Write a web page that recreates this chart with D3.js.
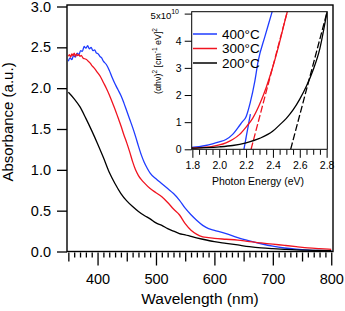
<!DOCTYPE html>
<html>
<head>
<meta charset="utf-8">
<script src="https://cdn.jsdelivr.net/npm/d3@7"></script>
<style>
  body { margin: 0; background: #fff; }
  svg { display: block; font-family: "Liberation Sans", Arial, sans-serif; }
</style>
</head>
<body>
<svg id="chart" width="345" height="311"></svg>
<script>
// main spectra: wavelength (nm) / absorbance (a.u.)
const wl400 = [350, 353, 356, 359, 362, 365, 368, 371, 374, 377, 380, 383, 386, 389, 392, 395, 398, 401, 404, 407, 410, 415, 420, 425, 430, 435, 440, 445, 450, 455, 460, 465, 470, 475, 480, 485, 490, 500, 510, 520, 530, 540, 550, 560, 570, 580, 590, 600, 620, 640, 660, 680, 700, 720, 740, 760, 780, 800];
const abs400 = [2.33, 2.37, 2.35, 2.40, 2.38, 2.43, 2.41, 2.46, 2.45, 2.51, 2.49, 2.52, 2.48, 2.50, 2.46, 2.47, 2.43, 2.42, 2.39, 2.37, 2.33, 2.29, 2.22, 2.13, 2.05, 1.98, 1.91, 1.82, 1.72, 1.62, 1.52, 1.41, 1.29, 1.18, 1.09, 1.02, 0.96, 0.89, 0.83, 0.77, 0.71, 0.63, 0.53, 0.45, 0.38, 0.32, 0.28, 0.26, 0.22, 0.17, 0.13, 0.095, 0.065, 0.043, 0.028, 0.018, 0.013, 0.01];

const wl300 = [350, 352, 354, 356, 358, 360, 362, 364, 366, 368, 370, 372, 375, 378, 381, 384, 387, 390, 395, 400, 405, 410, 415, 420, 425, 430, 435, 440, 445, 450, 455, 460, 465, 470, 475, 480, 490, 500, 510, 520, 530, 540, 550, 560, 570, 580, 590, 600, 620, 640, 660, 680, 700, 720, 740, 760, 780, 800];
const abs300 = [2.39, 2.41, 2.38, 2.42, 2.40, 2.43, 2.39, 2.42, 2.40, 2.41, 2.39, 2.40, 2.37, 2.36, 2.35, 2.33, 2.31, 2.28, 2.24, 2.19, 2.14, 2.07, 2.00, 1.92, 1.83, 1.74, 1.64, 1.54, 1.43, 1.33, 1.22, 1.10, 1.00, 0.93, 0.88, 0.84, 0.77, 0.72, 0.67, 0.60, 0.52, 0.45, 0.34, 0.26, 0.21, 0.18, 0.17, 0.16, 0.15, 0.14, 0.12, 0.105, 0.09, 0.075, 0.06, 0.045, 0.035, 0.027];

const wl200 = [350, 360, 370, 380, 390, 400, 410, 420, 430, 440, 450, 460, 470, 480, 490, 500, 510, 520, 530, 540, 550, 560, 580, 600, 620, 640, 660, 680, 700, 720, 740, 770, 800];
const abs200 = [1.95, 1.87, 1.77, 1.63, 1.48, 1.32, 1.15, 0.97, 0.83, 0.71, 0.62, 0.55, 0.49, 0.44, 0.40, 0.35, 0.32, 0.28, 0.25, 0.22, 0.205, 0.185, 0.15, 0.12, 0.10, 0.08, 0.06, 0.045, 0.035, 0.027, 0.02, 0.015, 0.01];

// inset Tauc plot: photon energy (eV) / (ahv)^2 in 1e10
const ev400 = [1.795, 1.85, 1.90, 1.95, 2.00, 2.05, 2.10, 2.14, 2.17, 2.20, 2.23, 2.265, 2.29, 2.34, 2.39, 2.43];
const tauc400 = [0.07, 0.10, 0.14, 0.20, 0.27, 0.36, 0.55, 0.80, 1.00, 1.20, 1.70, 2.50, 3.25, 4.15, 5.0, 5.7];
const ev300 = [1.795, 1.85, 1.90, 1.95, 2.00, 2.05, 2.10, 2.15, 2.20, 2.25, 2.30, 2.35, 2.40, 2.45, 2.49, 2.53];
const tauc300 = [0.04, 0.06, 0.08, 0.11, 0.16, 0.24, 0.36, 0.54, 0.82, 1.15, 1.65, 2.28, 3.05, 3.95, 4.75, 5.5];
const ev200 = [1.795, 1.90, 2.00, 2.10, 2.20, 2.30, 2.40, 2.45, 2.50, 2.55, 2.60, 2.65, 2.70, 2.75, 2.80, 2.82];
const tauc200 = [0.04, 0.06, 0.09, 0.14, 0.24, 0.40, 0.67, 0.90, 1.14, 1.45, 1.85, 2.33, 2.93, 3.72, 4.98, 5.5];

// tangent (band gap) lines: [eV0, val0, eV1, val1]
const fit400 = [2.184, 0, 2.232, 1.3];
const fit300 = [2.237, 0, 2.507, 5.07];
const fit200 = [2.532, 0, 2.80, 5.0];

const labels = ["400°C", "300°C", "200°C"];
const colors = ["#1f3cff", "#f01420", "#000000"];

const yTicks = [0, 0.5, 1.0, 1.5, 2.0, 2.5, 3.0];
const xMajor = [400, 500, 600, 700, 800];
const insetXTicks = [1.8, 2.0, 2.2, 2.4, 2.6, 2.8];
const insetYTicks = [0, 1, 2, 3, 4];

document.addEventListener("DOMContentLoaded", function () {
  const svg = d3.select("#chart");

  const x = d3.scaleLinear().domain([347.7, 803]).range([67, 333]);
  const y = d3.scaleLinear().domain([0, 3]).range([251.5, 6.5]);

  svg.append("clipPath").attr("id", "mainclip")
    .append("rect").attr("x", 67).attr("y", 5).attr("width", 266).attr("height", 246.5);

  const line = d3.line().x(d => x(d[0])).y(d => y(d[1])).curve(d3.curveMonotoneX);
  const series = [[wl400, abs400], [wl300, abs300], [wl200, abs200]];
  series.forEach(function (s, i) {
    svg.append("path")
      .datum(s[0].map((v, j) => [v, s[1][j]]))
      .attr("clip-path", "url(#mainclip)")
      .attr("fill", "none")
      .attr("stroke", colors[i])
      .attr("stroke-width", 1.3)
      .attr("d", line);
  });

  // frame
  svg.append("rect")
    .attr("x", 67).attr("y", 5).attr("width", 266).attr("height", 246.5)
    .attr("fill", "none").attr("stroke", "#000").attr("stroke-width", 1.4);

  const yAxis = svg.append("g").attr("transform", "translate(67,0)")
    .call(d3.axisLeft(y).tickValues(yTicks).tickSize(10).tickPadding(6).tickFormat(d3.format(".1f")));
  yAxis.select(".domain").remove();

  const xMinor = d3.range(350, 801, 10).filter(d => d % 50 !== 0);
  const xMid = d3.range(350, 801, 100);
  const gx1 = svg.append("g").attr("transform", "translate(0,252.5)")
    .call(d3.axisBottom(x).tickValues(xMinor).tickSize(5).tickFormat(""));
  const gx2 = svg.append("g").attr("transform", "translate(0,252.5)")
    .call(d3.axisBottom(x).tickValues(xMid).tickSize(9).tickFormat(""));
  const gx3 = svg.append("g").attr("transform", "translate(0,252.5)")
    .call(d3.axisBottom(x).tickValues(xMajor).tickSize(13).tickPadding(8));
  [gx1, gx2, gx3].forEach(g => g.select(".domain").remove());

  svg.selectAll(".tick line").attr("stroke-width", 1.3);
  svg.selectAll(".tick text").attr("font-size", 14.5).attr("fill", "#000")
    .attr("font-family", "Liberation Sans, Arial, sans-serif");

  svg.append("text")
    .attr("x", 200).attr("y", 304)
    .attr("text-anchor", "middle").attr("font-size", 15.5)
    .text("Wavelength (nm)");
  svg.append("text")
    .attr("transform", "translate(13,122) rotate(-90)")
    .attr("text-anchor", "middle").attr("font-size", 15)
    .text("Absorbance (a.u.)");

  // inset
  const ix = d3.scaleLinear().domain([1.795, 2.805]).range([191.7, 327.3]);
  const iy = d3.scaleLinear().domain([0, 5.07]).range([149.3, 11.7]);
  const inset = svg.append("g");

  inset.append("rect")
    .attr("x", 191.7).attr("y", 11.7).attr("width", 135.6).attr("height", 137.6)
    .attr("fill", "#fff");
  svg.append("clipPath").attr("id", "insetclip")
    .append("rect").attr("x", 191.7).attr("y", 11.7).attr("width", 135.6).attr("height", 137.6);

  const iline = d3.line().x(d => ix(d[0])).y(d => iy(d[1])).curve(d3.curveMonotoneX);
  const tauc = [[ev400, tauc400], [ev300, tauc300], [ev200, tauc200]];
  const fits = [fit400, fit300, fit200];
  tauc.forEach(function (s, i) {
    inset.append("path")
      .datum(s[0].map((v, j) => [v, s[1][j]]))
      .attr("clip-path", "url(#insetclip)")
      .attr("fill", "none")
      .attr("stroke", colors[i])
      .attr("stroke-width", 1.3)
      .attr("d", iline);
    const f = fits[i];
    inset.append("line")
      .attr("clip-path", "url(#insetclip)")
      .attr("x1", ix(f[0])).attr("y1", iy(f[1]))
      .attr("x2", ix(f[2])).attr("y2", iy(f[3]))
      .attr("stroke", colors[i])
      .attr("stroke-width", 1.3)
      .attr("stroke-dasharray", i === 0 ? null : "7,2.5");
  });

  inset.append("rect")
    .attr("x", 191.7).attr("y", 11.7).attr("width", 135.6).attr("height", 137.6)
    .attr("fill", "none").attr("stroke", "#000").attr("stroke-width", 1);

  const iyAxis = inset.append("g").attr("transform", "translate(191.7,0)")
    .call(d3.axisLeft(iy).tickValues(insetYTicks.concat([5])).tickSize(7).tickPadding(3)
      .tickFormat(d => d === 5 ? "" : d));
  iyAxis.select(".domain").remove();

  const ixMinor = d3.range(1.8, 2.801, 0.05).filter(d => Math.abs(Math.round(d * 5) - d * 5) > 0.01);
  const ixa = inset.append("g").attr("transform", "translate(0,149.8)")
    .call(d3.axisBottom(ix).tickValues(ixMinor).tickSize(5).tickFormat(""));
  const ixb = inset.append("g").attr("transform", "translate(0,149.8)")
    .call(d3.axisBottom(ix).tickValues(insetXTicks).tickSize(8).tickPadding(4).tickFormat(d3.format(".1f")));
  [ixa, ixb].forEach(g => g.select(".domain").remove());

  inset.selectAll(".tick line").attr("stroke-width", 1);
  inset.selectAll(".tick text").attr("font-size", 10.5).attr("fill", "#000")
    .attr("font-family", "Liberation Sans, Arial, sans-serif");

  const top = inset.append("text")
    .attr("x", 179).attr("y", 18.5).attr("text-anchor", "end").attr("font-size", 9.5);
  top.append("tspan").text("5x10");
  top.append("tspan").attr("dy", -5).attr("font-size", 7).text("10");

  inset.append("text")
    .attr("x", 258).attr("y", 185).attr("text-anchor", "middle").attr("font-size", 10.5)
    .text("Photon Energy (eV)");

  const ylab = inset.append("text")
    .attr("transform", "translate(161,61) rotate(-90)")
    .attr("text-anchor", "middle").attr("font-size", 9.5)
    .attr("textLength", 66).attr("lengthAdjust", "spacingAndGlyphs");
  ylab.append("tspan").text("(αhν)");
  ylab.append("tspan").attr("dy", -4.5).attr("font-size", 7).text("2");
  ylab.append("tspan").attr("dy", 4.5).text(" [cm");
  ylab.append("tspan").attr("dy", -4.5).attr("font-size", 7).text("-1");
  ylab.append("tspan").attr("dy", 4.5).text(" eV]");
  ylab.append("tspan").attr("dy", -4.5).attr("font-size", 7).text("2");

  // legend
  labels.forEach(function (l, i) {
    const ly = 34 + i * 14.5;
    inset.append("line")
      .attr("x1", 193).attr("x2", 217).attr("y1", ly).attr("y2", ly)
      .attr("stroke", colors[i]).attr("stroke-width", 1.5);
    inset.append("text")
      .attr("x", 222).attr("y", ly + 4.8).attr("font-size", 13.5)
      .text(l);
  });
});
</script>
</body>
</html>
